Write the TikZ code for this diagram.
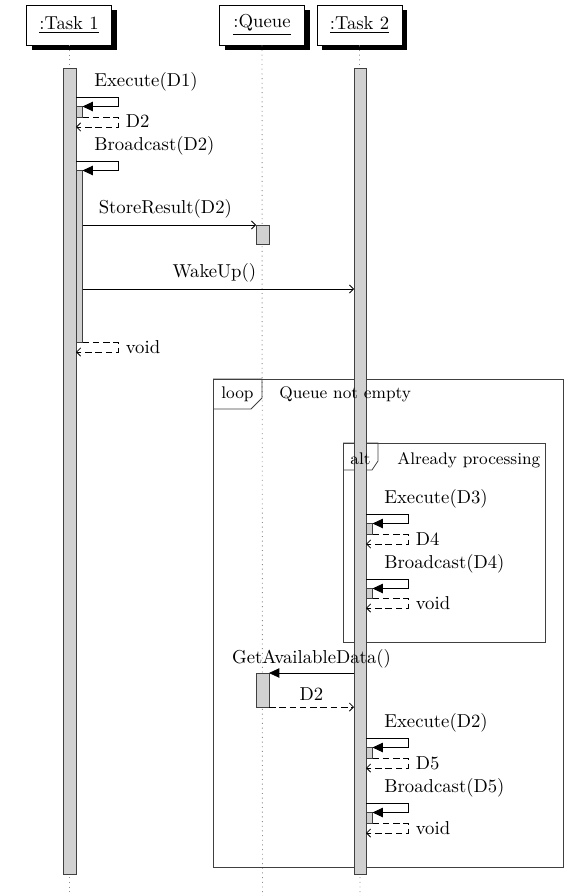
\documentclass[tikz,border=0pt]{standalone}
\usetikzlibrary{arrows.meta,shadows}
\newcommand\sdself[6]{%
  \coordinate (#1a) at (#2,#3);
  \coordinate (#1b) at (#2+42,#3);
  \coordinate (#1c) at (#2+6.5,#3+9.5);
  \draw[bar] (#2,#3+9.5) rectangle (#2+6.5,#4);
  \draw[call] (#1a) -- (#1b) |- (#1c);
  \coordinate (#1d) at (#2+6.5,#4);
  \coordinate (#1f) at (#2+42,#4+10);
  \coordinate (#1e) at (#2,#4+10);
  \draw[ret] (#1d) -| (#1f) -- (#1e);
  \node[lbl, anchor=base west] (#1l) at (#2+18,#3-10.5) {#5};
  \node[lbl, anchor=base west] (#1r) at (#2+49.5,#4+11) {#6};
}
\begin{document}
\begin{tikzpicture}[x=0.535pt,y=-0.535pt,
  head/.style={draw, fill=white, minimum width=45.5pt, minimum height=21.4pt, inner sep=0pt,
    drop shadow={shadow xshift=2.9pt, shadow yshift=-2.9pt, fill=black, opacity=1}},
  life/.style={black!45, dotted, line width=0.5pt},
  bar/.style={draw=black!75, fill=black!18},
  call/.style={-{Triangle[length=5.5pt,width=5pt]}},
  msg/.style={-{Straight Barb[length=2.2pt,width=4.4pt]}},
  ret/.style={msg, dash pattern=on 3.5pt off 2pt},
  lbl/.style={inner sep=0pt, anchor=base},
  frm/.style={draw=black!75},
  flbl/.style={inner sep=0pt, anchor=base, font=\small},
]
\useasboundingbox (0,0) rectangle (565,896);

% heads
\node[head] (t1) at (69,25) {\underline{:Task 1}};
\node[head] (q) at (262,25) {\underline{:Queue}};
\node[head] (t2) at (359.5,25) {\underline{:Task 2}};

% lifelines
\coordinate (t1end) at (69,896);
\coordinate (qend) at (262.5,896);
\coordinate (t2end) at (360,896);
\draw[life] (t1) -- (t1end);
\draw[life] (q) -- (qend);
\draw[life] (t2) -- (t2end);

% frames
\draw[frm] (213,379) rectangle (563,867);
\draw[frm] (343,443) rectangle (545,642);
\draw[frm] (213,379) -- (262,379) -- (262,398) -- (251,409) -- (213,409);
\draw[frm] (343,443) -- (378,443) -- (378,461) -- (372,470) -- (343,470);

% main activation bars
\draw[bar] (63,68) rectangle (76,874);
\draw[bar] (354,68) rectangle (366,874);

% Task 1 self calls
\sdself{ea}{76}{97}{117}{Execute(D1)}{D2}
\sdself{eb}{76}{161}{342}{Broadcast(D2)}{void}

% StoreResult
\coordinate (sr1) at (82.5,225);
\coordinate (sr2) at (256,225);
\draw[msg] (sr1) -- node[lbl, yshift=6.4pt, xshift=-2.1pt] (srl) {StoreResult(D2)} (sr2);
\draw[bar] (256,225) rectangle (269,244);

% WakeUp
\coordinate (wu1) at (82.5,289);
\coordinate (wu2) at (354,289);
\draw[msg] (wu1) -- node[lbl, yshift=5.9pt, xshift=-2.1pt] (wul) {WakeUp()} (wu2);

% Task 2 self calls in alt
\sdself{ec}{366}{514}{534}{Execute(D3)}{D4}
\sdself{ed}{366}{579}{598}{Broadcast(D4)}{void}

% GetAvailableData
\coordinate (ga1) at (354,673);
\coordinate (ga2) at (269,673);
\draw[bar] (256,673) rectangle (269,707);
\draw[call] (ga1) -- node[lbl, yshift=5.35pt] (gal) {GetAvailableData()} (ga2);
\coordinate (gr1) at (269,707);
\coordinate (gr2) at (354,707);
\draw[ret] (gr1) -- node[lbl, yshift=3.7pt] (grl) {D2} (gr2);

\sdself{ee}{366}{738}{758}{Execute(D2)}{D5}
\sdself{ef}{366}{803}{823}{Broadcast(D5)}{void}

% frame labels
\node[flbl] (loopl) at (237.5,398) {loop};
\node[flbl, anchor=base west] (loopc) at (279,398) {Queue not empty};
\node[flbl] (altl) at (360.5,464) {alt};
\node[flbl, anchor=base west] (altc) at (397,464) {Already processing};
\end{tikzpicture}
\end{document}
